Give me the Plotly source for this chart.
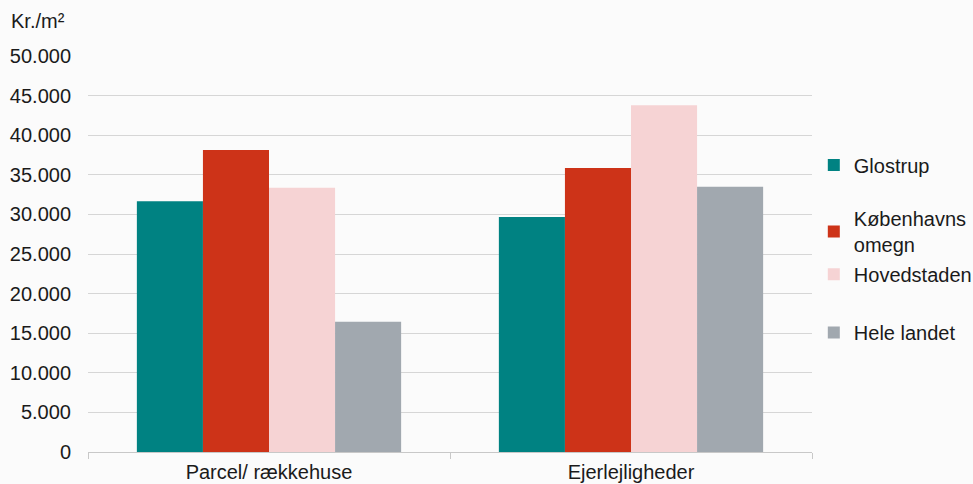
import plotly.graph_objects as go

categories = ["Parcel/ rækkehuse", "Ejerlejligheder"]
series_names = ["Glostrup", "Københavns<br>omegn", "Hovedstaden", "Hele landet"]
glostrup = [31650, 29670]
kbh_omegn = [38130, 35860]
hovedstaden = [33370, 43770]
hele_landet = [16450, 33500]
tick_vals = [0, 5000, 10000, 15000, 20000, 25000, 30000, 35000, 40000, 45000, 50000]
tick_text = ["0", "5.000", "10.000", "15.000", "20.000", "25.000", "30.000",
             "35.000", "40.000", "45.000", "50.000"]

colors = ["#008282", "#cd3318", "#f6d3d4", "#a1a8af"]
values = [glostrup, kbh_omegn, hovedstaden, hele_landet]
legend_ids = ["legend", "legend2", "legend3", "legend4"]
legend_y = [0.725, 0.557, 0.449, 0.302]

FONT = "Liberation Sans, Arial, sans-serif"
BG = "#fbfbfb"

fig = go.Figure()
for name, vals, col, lid in zip(series_names, values, colors, legend_ids):
    fig.add_trace(go.Bar(
        x=categories, y=vals, name=name, marker_color=col,
        marker_line_width=0, legend=lid,
    ))

layout_legends = {}
for lid, ly in zip(legend_ids, legend_y):
    layout_legends[lid] = dict(
        x=1.0025, xanchor="left", y=ly, yanchor="middle",
        bgcolor="rgba(0,0,0,0)", font=dict(family=FONT, size=20, color="#1a1a1a"),
        itemwidth=30, tracegroupgap=0,
    )

fig.update_layout(
    width=973, height=484,
    margin=dict(l=88, r=161, t=56, b=32, autoexpand=False),
    paper_bgcolor=BG, plot_bgcolor=BG,
    barmode="group", bargap=0.27, bargroupgap=0,
    font=dict(family=FONT, size=20, color="#1a1a1a"),
    showlegend=True,
    **layout_legends,
)
fig.update_yaxes(
    range=[0, 50000], tickvals=tick_vals, ticktext=tick_text, automargin=False,
    showgrid=True, gridcolor="#d6d6d6", gridwidth=1.3,
    zeroline=False, showline=False, ticks="", ticklabelstandoff=16,
    tickfont=dict(family=FONT, size=20, color="#1a1a1a"),
)
fig.update_xaxes(
    automargin=False,
    showline=True, linecolor="#c8c8c8", linewidth=1.3,
    ticks="outside", tickson="boundaries", ticklen=6, tickcolor="#c8c8c8",
    tickfont=dict(family=FONT, size=20, color="#1a1a1a"),
    ticklabelstandoff=2,
)
fig.add_annotation(
    text="Kr./m²", xref="paper", yref="paper", x=-0.109, y=1.0, yshift=22,
    xanchor="left", yanchor="bottom", showarrow=False,
    font=dict(family=FONT, size=20, color="#1a1a1a"),
)
fig.write_html(
    "out.html",
    config={"displayModeBar": False},
    post_script="document.body.style.margin='0';document.body.style.background='" + BG + "';document.body.style.overflow='hidden';",
)
